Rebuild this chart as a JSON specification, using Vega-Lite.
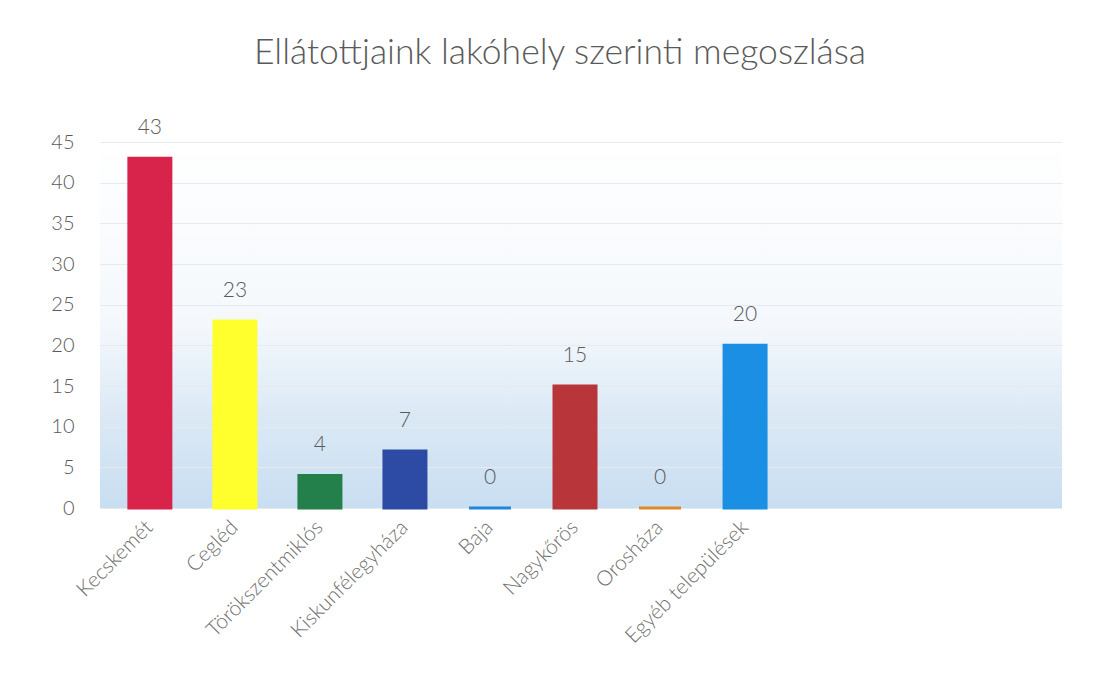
{
  "$schema": "https://vega.github.io/schema/vega-lite/v6.json",
  "autosize": {"type": "none"},
  "padding": {"left": 100, "top": 142, "right": 50, "bottom": 177},
  "width": 962,
  "height": 366,
  "background": "#ffffff",
  "title": {
    "text": "Ellátottjaink lakóhely szerinti megoszlása",
    "font": "Lato",
    "fontSize": 35.5,
    "fontWeight": 300,
    "color": "#595959",
    "anchor": "middle",
    "frame": "group",
    "dx": -21,
    "offset": 46
  },
  "data": {
    "values": [
      {"telepules": "Kecskemét", "db": 43, "szin": "#d8234b"},
      {"telepules": "Cegléd", "db": 23, "szin": "#ffff2e"},
      {"telepules": "Törökszentmiklós", "db": 4, "szin": "#23804a"},
      {"telepules": "Kiskunfélegyháza", "db": 7, "szin": "#2d4aa5"},
      {"telepules": "Baja", "db": 0, "szin": "#1f86d9"},
      {"telepules": "Nagykőrös", "db": 15, "szin": "#b8363a"},
      {"telepules": "Orosháza", "db": 0, "szin": "#e0892b"},
      {"telepules": "Egyéb települések", "db": 20, "szin": "#1b8fe3"}
    ]
  },
  "encoding": {
    "x": {
      "field": "telepules",
      "type": "nominal",
      "sort": null,
      "title": null,
      "scale": {
        "domain": ["Kecskemét", "Cegléd", "Törökszentmiklós", "Kiskunfélegyháza", "Baja", "Nagykőrös", "Orosháza", "Egyéb települések", " ", "  ", "   "],
        "paddingInner": 0.506,
        "paddingOuter": 0.41,
        "align": 0.414
      },
      "axis": {
        "labelAngle": -45,
        "labelAlign": "right",
        "labelBaseline": "middle",
        "labelFont": "Lato",
        "labelFontSize": 21,
        "labelFontWeight": 300,
        "labelColor": "#6f6f6f",
        "labelPadding": 16,
        "ticks": false,
        "domain": false
      }
    },
    "y": {
      "field": "db",
      "type": "quantitative",
      "title": null,
      "scale": {"domain": [0, 45], "nice": false},
      "axis": {
        "values": [0, 5, 10, 15, 20, 25, 30, 35, 40, 45],
        "labelFont": "Lato",
        "labelFontSize": 20,
        "labelFontWeight": 300,
        "labelColor": "#595959",
        "labelPadding": 26,
        "ticks": false,
        "domain": false,
        "gridColor": "#e6e9ee",
        "gridWidth": 1
      }
    }
  },
  "layer": [
    {
      "mark": {"type": "bar", "strokeWidth": 3, "strokeJoin": "miter"},
      "encoding": {
        "color": {"field": "szin", "type": "nominal", "scale": null, "legend": null},
        "stroke": {"field": "szin", "type": "nominal", "scale": null, "legend": null}
      }
    },
    {
      "mark": {"type": "text", "baseline": "bottom", "dy": -20, "font": "Lato", "fontSize": 21, "fontWeight": 300, "color": "#595959"},
      "encoding": {
        "text": {"field": "db", "type": "quantitative"}
      }
    }
  ],
  "config": {
    "view": {
      "stroke": null,
      "fill": {
        "gradient": "linear",
        "x1": 0, "y1": 0, "x2": 0, "y2": 1,
        "stops": [
          {"offset": 0, "color": "#ffffff"},
          {"offset": 0.5, "color": "#f4f8fc"},
          {"offset": 0.75, "color": "#dbe9f5"},
          {"offset": 1, "color": "#c8def1"}
        ]
      }
    }
  }
}
